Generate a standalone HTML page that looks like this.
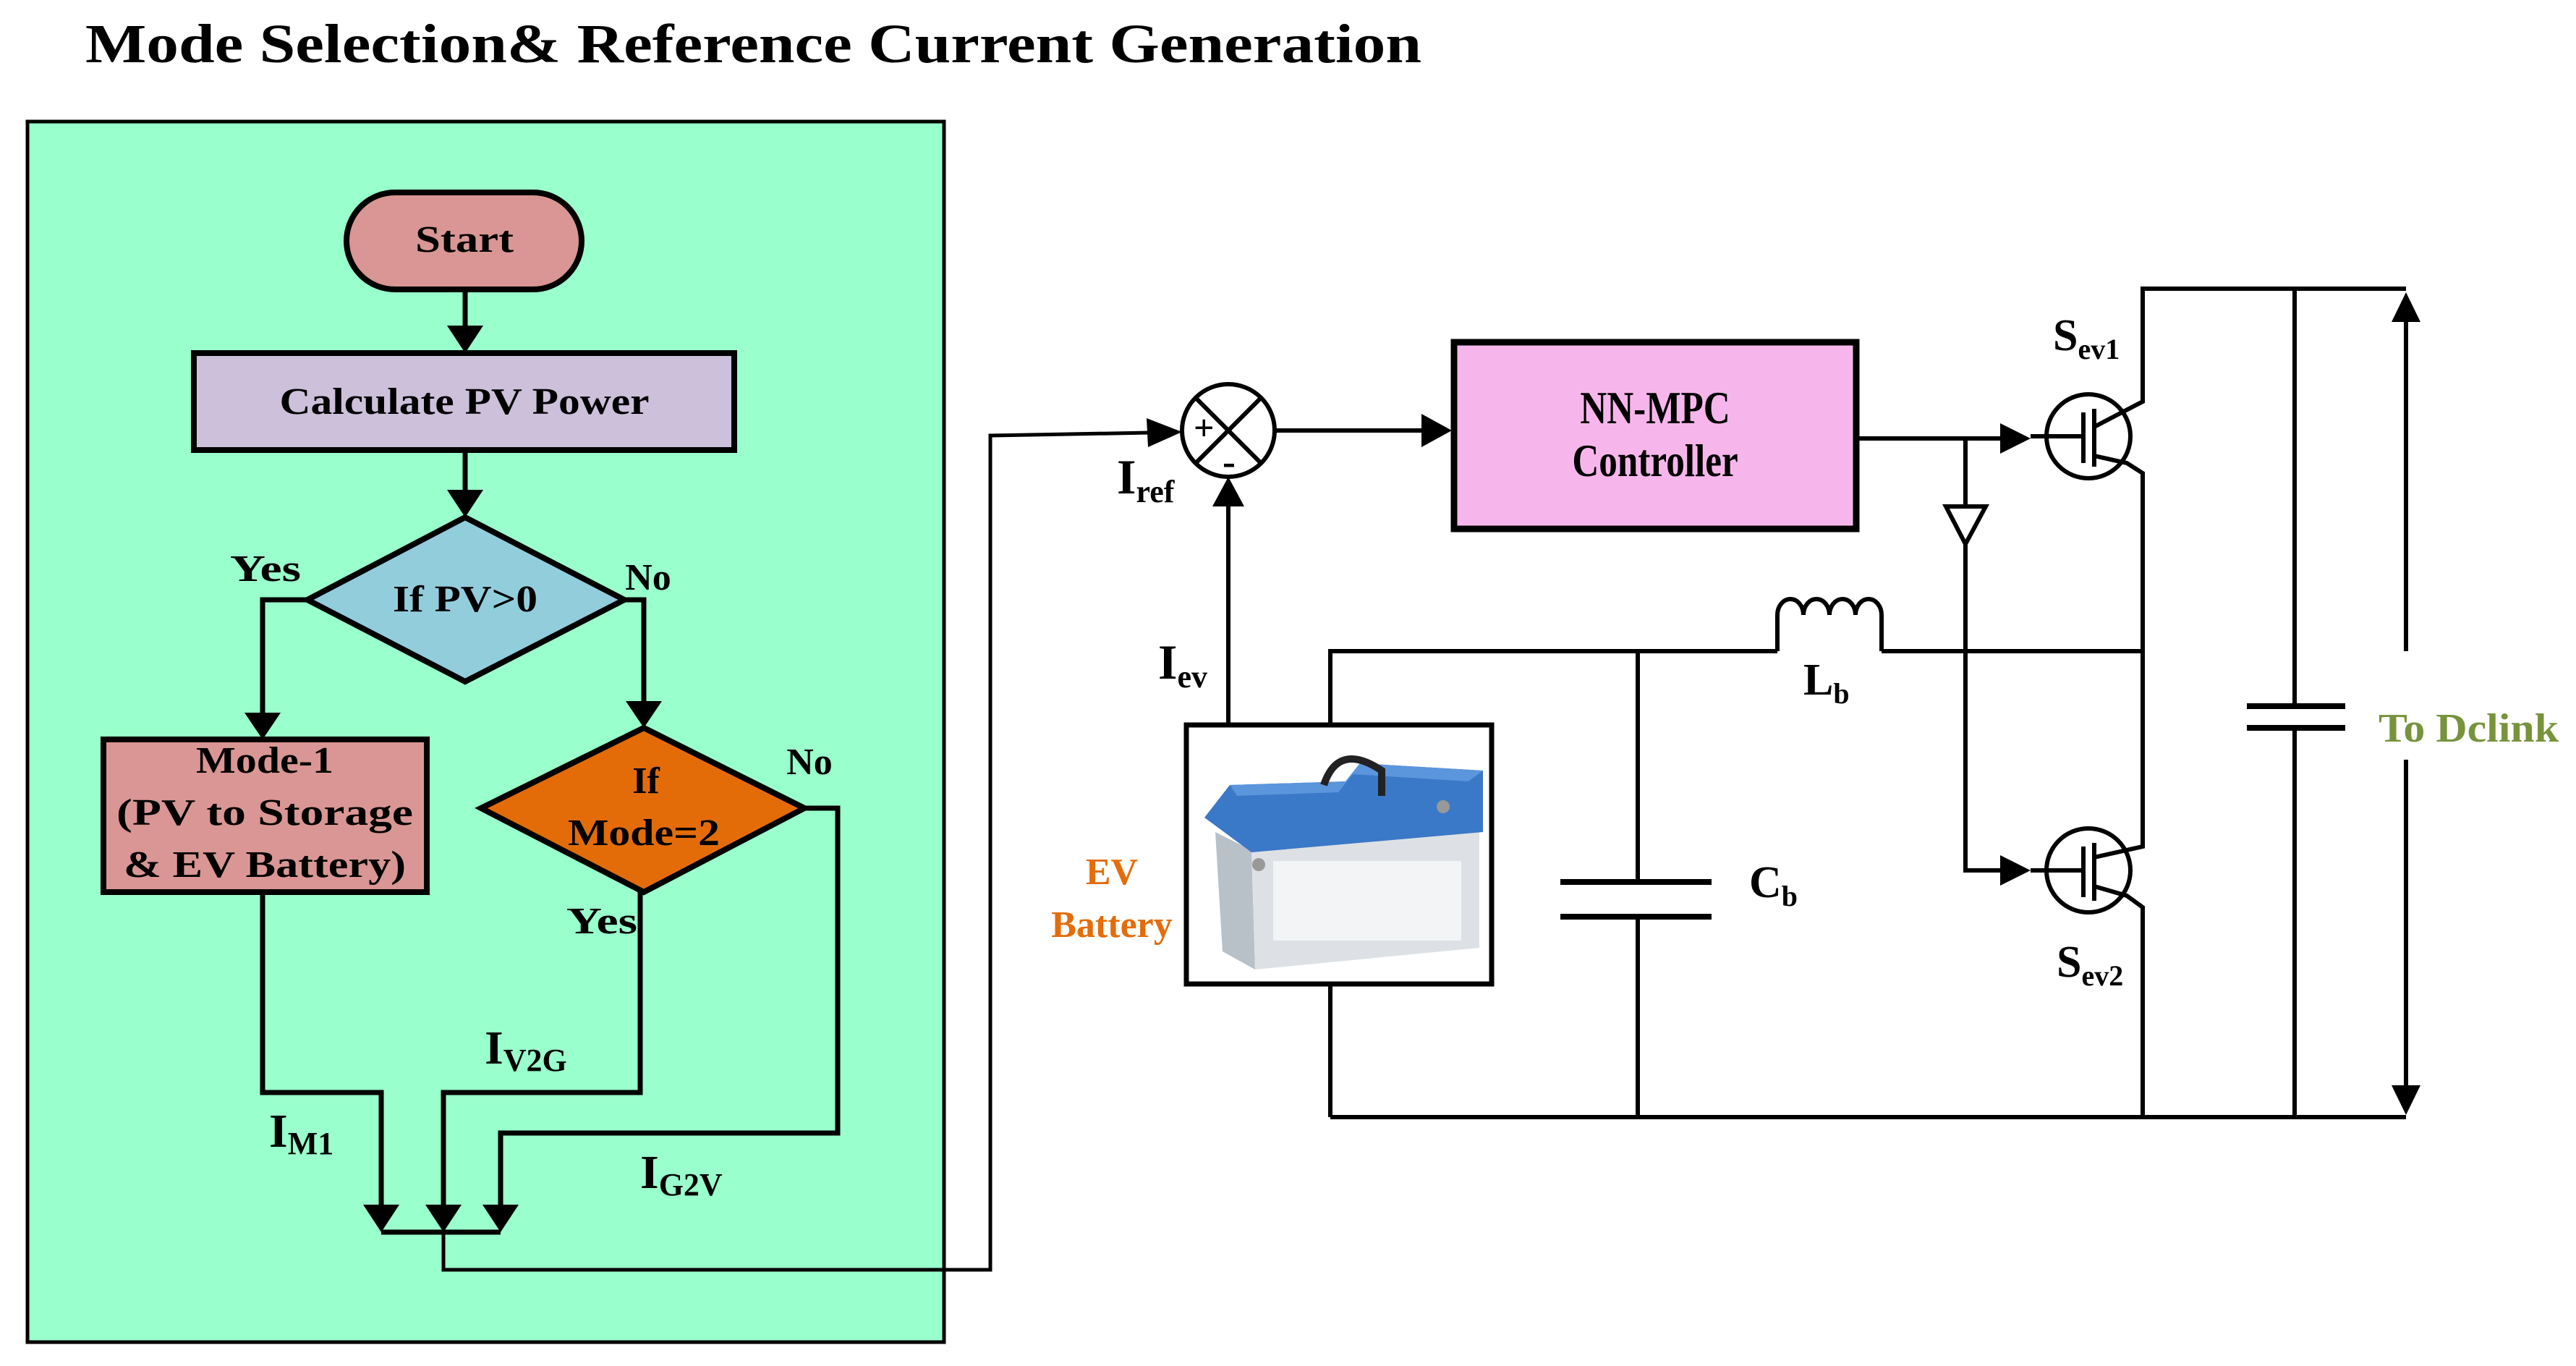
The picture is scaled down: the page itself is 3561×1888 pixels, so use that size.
<!DOCTYPE html>
<html><head><meta charset="utf-8"><style>
html,body{margin:0;padding:0;background:#fff;}
svg{display:block;}
text{font-family:"Liberation Serif",serif;}
</style></head><body>
<svg width="3561" height="1888" viewBox="0 0 3561 1888" xmlns="http://www.w3.org/2000/svg">
<text x="118" y="86" font-size="76" font-weight="bold" textLength="1847" lengthAdjust="spacingAndGlyphs">Mode Selection&amp; Reference Current Generation</text>
<rect x="38" y="168" width="1267" height="1687" fill="#99FFCC" stroke="#000" stroke-width="5"/>
<!-- flowchart -->
<g stroke="#000" stroke-width="8">
<rect x="479" y="266" width="325" height="134" rx="67" fill="#D99694"/>
<rect x="268" y="488" width="747" height="134" fill="#CCC0DA"/>
<polygon points="643,715 863,829 643,942 425,829" fill="#92CDDC"/>
<rect x="143" y="1022" width="447" height="211" fill="#D99694"/>
<polygon points="890,1006 1112,1117 890,1233 665,1117" fill="#E36C09"/>
</g>
<g stroke="#000" stroke-width="7" fill="none">
<line x1="643" y1="400" x2="643" y2="450"/>
<line x1="643" y1="622" x2="643" y2="680"/>
<polyline points="425,829 363,829 363,985"/>
<polyline points="863,829 890,829 890,970"/>
<polyline points="1112,1117 1158,1117 1158,1566 692,1566 692,1665"/>
<polyline points="885,1233 885,1510 613,1510 613,1665"/>
<polyline points="363,1233 363,1510 527,1510 527,1665"/>
<line x1="527" y1="1703" x2="692" y2="1703"/>
<polyline points="613,1703 613,1755 1369,1755 1369,602 1590,598" stroke-width="5"/>
</g>
<g fill="#000">
<polygon points="618,450 668,450 643,488"/>
<polygon points="618,677 668,677 643,715"/>
<polygon points="338,985 388,985 363,1022"/>
<polygon points="865,969 915,969 890,1006"/>
<polygon points="502,1665 552,1665 527,1703"/>
<polygon points="588,1665 638,1665 613,1703"/>
<polygon points="667,1665 717,1665 692,1703"/>
<polygon points="1585,578 1634,597 1587,618"/>
</g>
<g font-weight="bold" font-size="52" text-anchor="middle">
<text x="642" y="348" textLength="136" lengthAdjust="spacingAndGlyphs">Start</text>
<text x="642" y="572" textLength="511" lengthAdjust="spacingAndGlyphs">Calculate PV Power</text>
<text x="643" y="845" textLength="200" lengthAdjust="spacingAndGlyphs">If PV&gt;0</text>
<text x="366" y="1068" textLength="190" lengthAdjust="spacingAndGlyphs">Mode-1</text>
<text x="366" y="1140" textLength="410" lengthAdjust="spacingAndGlyphs">(PV to Storage</text>
<text x="366" y="1212" textLength="390" lengthAdjust="spacingAndGlyphs">&amp; EV Battery)</text>
<text x="893" y="1096">If</text>
<text x="890" y="1168" textLength="210" lengthAdjust="spacingAndGlyphs">Mode=2</text>
<text x="367" y="803" textLength="98" lengthAdjust="spacingAndGlyphs">Yes</text>
<text x="896" y="815">No</text>
<text x="1119" y="1070">No</text>
<text x="832" y="1290" textLength="98" lengthAdjust="spacingAndGlyphs">Yes</text>
</g>
<g font-weight="bold" font-size="66">
<text x="670" y="1470">I<tspan font-size="44" dy="10">V2G</tspan></text>
<text x="372" y="1585">I<tspan font-size="44" dy="10">M1</tspan></text>
<text x="885" y="1642">I<tspan font-size="44" dy="10">G2V</tspan></text>
</g>
<!-- summing junction -->
<g stroke="#000" stroke-width="6" fill="none">
<circle cx="1698" cy="595" r="64"/>
<line x1="1653" y1="550" x2="1743" y2="640"/>
<line x1="1743" y1="550" x2="1653" y2="640"/>
<line x1="1762" y1="595" x2="1970" y2="595"/>
<line x1="1698" y1="999" x2="1698" y2="700"/>
</g>
<polygon points="1965,572 2007,595 1965,618" fill="#000"/>
<polygon points="1676,700 1698,659 1720,700" fill="#000"/>
<text x="1650" y="608" font-size="50" font-weight="bold">+</text>
<text x="1690" y="656" font-size="54" font-weight="bold">-</text>
<text x="1544" y="682" font-size="68" font-weight="bold">I<tspan font-size="44" dy="12">ref</tspan></text>
<text x="1601" y="938" font-size="68" font-weight="bold">I<tspan font-size="44" dy="12">ev</tspan></text>
<rect x="2010" y="473" width="556" height="258" fill="#F7B6EB" stroke="#000" stroke-width="9"/>
<g font-size="64" font-weight="bold" text-anchor="middle" transform="translate(2288,0) scale(0.8,1)">
<text x="0" y="585">NN-MPC</text>
<text x="0" y="658">Controller</text>
</g>
<!-- circuit -->
<g stroke="#000" stroke-width="6" fill="none">
<line x1="2566" y1="606" x2="2770" y2="606"/>
<polyline points="2717,606 2717,1203 2770,1203"/>
<polygon points="2690,700 2745,700 2717,752" fill="#fff"/>
<circle cx="2887" cy="603" r="58"/>
<circle cx="2887" cy="1203" r="58"/>
<line x1="2807" y1="603" x2="2880" y2="603"/>
<line x1="2880" y1="570" x2="2880" y2="640"/>
<line x1="2895" y1="565" x2="2895" y2="645"/>
<polyline points="2895,590 2962,555 2962,399 3326,399"/>
<polyline points="2895,630 2940,640 2962,654 2962,1170 2895,1185"/>
<line x1="2807" y1="1203" x2="2880" y2="1203"/>
<line x1="2880" y1="1170" x2="2880" y2="1240"/>
<line x1="2895" y1="1165" x2="2895" y2="1245"/>
<polyline points="2895,1225 2940,1238 2962,1254 2962,1544"/>
<line x1="1839" y1="1544" x2="3326" y2="1544"/>
<polyline points="1839,999 1839,900 2457,900"/>
<line x1="1839" y1="1362" x2="1839" y2="1544"/>
<path d="M2457,900 L2457,850 a18,22 0 0 1 36,0 a18,22 0 0 1 36,0 a18,22 0 0 1 36,0 a18,22 0 0 1 36,0 L2601,900"/>
<line x1="2601" y1="900" x2="2962" y2="900"/>
<line x1="2264" y1="900" x2="2264" y2="1219"/>
<line x1="2264" y1="1267" x2="2264" y2="1544"/>
<line x1="2157" y1="1219" x2="2366" y2="1219" stroke-width="8"/>
<line x1="2157" y1="1267" x2="2366" y2="1267" stroke-width="8"/>
<line x1="3172" y1="399" x2="3172" y2="976"/>
<line x1="3172" y1="1006" x2="3172" y2="1544"/>
<line x1="3106" y1="976" x2="3242" y2="976" stroke-width="8"/>
<line x1="3106" y1="1006" x2="3242" y2="1006" stroke-width="8"/>
<line x1="3326" y1="440" x2="3326" y2="900"/>
<line x1="3326" y1="1050" x2="3326" y2="1505"/>
</g>
<polygon points="2765,585 2807,606 2765,627" fill="#000"/>
<polygon points="2765,1182 2807,1203 2765,1224" fill="#000"/>
<polygon points="3306,445 3326,404 3346,445" fill="#000"/>
<polygon points="3306,1500 3326,1541 3346,1500" fill="#000"/>
<!-- battery -->
<rect x="1640" y="1002" width="422" height="358" fill="#fff" stroke="#000" stroke-width="7"/>
<g>
<polygon points="1680,1150 1730,1175 1735,1340 1690,1315" fill="#B8C0C8"/>
<polygon points="1730,1175 2045,1150 2045,1310 1735,1340" fill="#DDE1E5"/>
<rect x="1760" y="1190" width="260" height="110" fill="#F2F4F6"/>
<polygon points="1665,1130 1700,1085 1860,1080 1880,1055 2050,1065 2050,1150 1730,1178" fill="#3A78C8"/>
<polygon points="1700,1085 1860,1080 1880,1055 2050,1065 2030,1080 1870,1070 1850,1095 1710,1100" fill="#5B95DC"/>
<path d="M1830,1085 q20,-60 80,-20 l0,35" stroke="#222" stroke-width="10" fill="none"/>
<circle cx="1740" cy="1195" r="9" fill="#999"/>
<circle cx="1995" cy="1115" r="9" fill="#999"/>
</g>
<text x="1537" y="1222" font-size="52" font-weight="bold" fill="#E46C0A" text-anchor="middle">EV</text>
<text x="1537" y="1295" font-size="52" font-weight="bold" fill="#E46C0A" text-anchor="middle">Battery</text>
<g font-size="62" font-weight="bold">
<text x="2493" y="960">L<tspan font-size="40" dy="12">b</tspan></text>
<text x="2418" y="1240">C<tspan font-size="40" dy="12">b</tspan></text>
<text x="2838" y="484">S<tspan font-size="40" dy="12">ev1</tspan></text>
<text x="2843" y="1350">S<tspan font-size="40" dy="12">ev2</tspan></text>
</g>
<text x="3288" y="1025" font-size="56" font-weight="bold" fill="#77933C" textLength="249" lengthAdjust="spacingAndGlyphs">To Dclink</text>
</svg>
</body></html>
